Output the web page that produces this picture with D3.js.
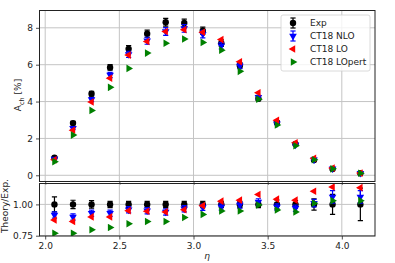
<!DOCTYPE html>
<html>
<head>
<meta charset="utf-8">
<script src="https://cdn.jsdelivr.net/npm/d3@7"></script>
<style>
  body { margin: 0; background: #fff; }
  svg { font-family: "DejaVu Sans", sans-serif; }
</style>
</head>
<body>
<div class="canvas"></div>
<script>
// bin centres in eta
const eta = [2.0625, 2.1875, 2.3125, 2.4375, 2.5625, 2.6875, 2.8125, 2.9375, 3.0625,
  3.1875, 3.3125, 3.4375, 3.5625, 3.6875, 3.8125, 3.9375, 4.125];

// top panel, A_ch [%]
const expVal = [0.96, 2.83, 4.42, 5.85, 6.86, 7.68, 8.30, 8.26, 7.84, 7.17, 5.96, 4.15, 2.86, 1.70, 0.83, 0.34, 0.11];
const expErr = [0.06, 0.09, 0.13, 0.15, 0.17, 0.19, 0.21, 0.21, 0.20, 0.18, 0.15, 0.10, 0.10, 0.05, 0.04, 0.03, 0.015];
const nloVal = [0.88, 2.55, 4.11, 5.44, 6.56, 7.30, 7.80, 7.97, 7.66, 7.03, 5.93, 4.23, 2.80, 1.65, 0.84, 0.36, 0.12];
const nloErr = [0.02, 0.07, 0.11, 0.14, 0.17, 0.19, 0.21, 0.21, 0.20, 0.18, 0.15, 0.10, 0.07, 0.04, 0.025, 0.017, 0.006];
const loVal = [0.84, 2.44, 3.98, 5.27, 6.52, 7.26, 7.80, 7.90, 7.76, 7.36, 6.16, 4.48, 2.98, 1.76, 0.92, 0.39, 0.12];
const lopertVal = [0.74, 2.18, 3.52, 4.77, 5.80, 6.63, 7.16, 7.39, 7.21, 6.79, 5.64, 4.13, 2.73, 1.60, 0.84, 0.35, 0.11];

// bottom panel, Theory/Exp.
const expRatioErr = [0.06, 0.033, 0.03, 0.025, 0.025, 0.025, 0.025, 0.025, 0.025, 0.025, 0.025, 0.025, 0.035, 0.03, 0.045, 0.08, 0.13];
const nloRatio = [0.915, 0.90, 0.93, 0.93, 0.957, 0.95, 0.94, 0.965, 0.977, 0.98, 0.995, 1.02, 0.98, 0.97, 1.01, 1.06, 1.06];
const nloRatioErr = [0.025, 0.025, 0.025, 0.025, 0.025, 0.025, 0.025, 0.025, 0.025, 0.025, 0.025, 0.025, 0.025, 0.025, 0.03, 0.05, 0.05];
const loRatio = [0.876, 0.863, 0.90, 0.90, 0.95, 0.945, 0.94, 0.957, 0.99, 1.026, 1.034, 1.079, 1.042, 1.034, 1.105, 1.139, 1.134];
const lopertRatio = [0.77, 0.77, 0.797, 0.815, 0.845, 0.863, 0.863, 0.895, 0.92, 0.947, 0.947, 0.995, 0.955, 0.94, 1.01, 1.03, 1.03];

const xTicks = [2.0, 2.5, 3.0, 3.5, 4.0];
const yTicksTop = [0, 2, 4, 6, 8];
const yTicksBot = [0.75, 1.00];
const legendNames = ["Exp", "CT18 NLO", "CT18 LO", "CT18 LOpert"];

const W = 395, H = 263;
const left = 39.5, right = 375;
const topY0 = 10.5, topY1 = 181.5;
const botY0 = 183.5, botY1 = 236;

const svg = d3.select(".canvas").append("svg").attr("width", W).attr("height", H);

const x = d3.scaleLinear().domain([1.9616, 4.2237]).range([left, right]);
const yTop = d3.scaleLinear().domain([-0.337, 8.94]).range([topY1, topY0]);
const yBot = d3.scaleLinear().domain([0.7476, 1.167]).range([botY1, botY0]);

const gridColor = "#c4c4c4";
const textColor = "#222";

let setupPanel = (y, y0, y1, yTicks, fmt, showX) => {
  const g = svg.append("g");
  // grid
  g.selectAll(".gx").data(xTicks).enter().append("line")
    .attr("x1", (d) => x(d)).attr("x2", (d) => x(d))
    .attr("y1", y0).attr("y2", y1)
    .attr("stroke", gridColor).attr("stroke-width", 1);
  g.selectAll(".gy").data(yTicks).enter().append("line")
    .attr("x1", left).attr("x2", right)
    .attr("y1", (d) => y(d)).attr("y2", (d) => y(d))
    .attr("stroke", gridColor).attr("stroke-width", 1);

  const yAxis = d3.axisLeft(y).tickValues(yTicks).tickFormat(fmt).tickSize(3.5).tickPadding(3);
  const ya = g.append("g").attr("transform", `translate(${left},0)`).call(yAxis);
  const xAxis = d3.axisBottom(x).tickValues(xTicks).tickFormat(showX ? d3.format(".1f") : () => "").tickSize(3.5).tickPadding(3);
  const xa = g.append("g").attr("transform", `translate(0,${y1})`).call(xAxis);
  [ya, xa].forEach((a) => {
    a.select(".domain").remove();
    a.selectAll("line").attr("stroke", textColor).attr("stroke-width", 0.8);
    a.selectAll("text").attr("fill", textColor).style("font-size", "9px").style("font-family", "DejaVu Sans");
  });
  return g;
};

setupPanel(yTop, topY0, topY1, yTicksTop, d3.format("d"), false);
setupPanel(yBot, botY0, botY1, yTicksBot, d3.format(".2f"), true);

// clip paths
svg.append("clipPath").attr("id", "clipTop").append("rect")
  .attr("x", left).attr("y", topY0).attr("width", right - left).attr("height", topY1 - topY0);
svg.append("clipPath").attr("id", "clipBot").append("rect")
  .attr("x", left).attr("y", botY0).attr("width", right - left).attr("height", botY1 - botY0);

const tri = d3.symbol().type(d3.symbolTriangle).size(25);

let errBar = (g, px, lo, hi, color) => {
  const cw = 2.6;
  g.append("line").attr("x1", px).attr("x2", px).attr("y1", lo).attr("y2", hi)
    .attr("stroke", color).attr("stroke-width", 1.2);
  g.append("line").attr("x1", px - cw).attr("x2", px + cw).attr("y1", lo).attr("y2", lo)
    .attr("stroke", color).attr("stroke-width", 1.2);
  g.append("line").attr("x1", px - cw).attr("x2", px + cw).attr("y1", hi).attr("y2", hi)
    .attr("stroke", color).attr("stroke-width", 1.2);
};

let drawErr = (g, xs, ys, es, y, color) => {
  xs.forEach((xv, i) => {
    errBar(g, x(xv), y(ys[i] - es[i]), y(ys[i] + es[i]), color);
  });
};

let drawTri = (g, xs, ys, y, color, rot) => {
  g.selectAll(null).data(xs).enter().append("path")
    .attr("d", tri)
    .attr("transform", (d, i) => `translate(${x(d)},${y(ys[i])}) rotate(${rot})`)
    .attr("fill", color);
};

let drawPanel = (clip, y, ev, ee, nv, ne, lv, pv) => {
  const g = svg.append("g").attr("clip-path", `url(#${clip})`);
  drawErr(g, eta, ev, ee, y, "black");
  g.selectAll(null).data(eta).enter().append("circle")
    .attr("cx", (d) => x(d)).attr("cy", (d, i) => y(ev[i])).attr("r", 3.2).attr("fill", "black");
  drawErr(g, eta, nv, ne, y, "blue");
  drawTri(g, eta, nv, y, "blue", 180);
  drawTri(g, eta, lv, y, "red", -90);
  drawTri(g, eta, pv, y, "green", 90);
};

drawPanel("clipTop", yTop, expVal, expErr, nloVal, nloErr, loVal, lopertVal);
drawPanel("clipBot", yBot, eta.map(() => 1), expRatioErr, nloRatio, nloRatioErr, loRatio, lopertRatio);

// frames
[[topY0, topY1], [botY0, botY1]].forEach((p) => {
  svg.append("rect").attr("x", left).attr("y", p[0]).attr("width", right - left).attr("height", p[1] - p[0])
    .attr("fill", "none").attr("stroke", textColor).attr("stroke-width", 1);
});

// axis labels
const yl = svg.append("text").attr("transform", "translate(21,95) rotate(-90)")
  .attr("text-anchor", "middle").attr("fill", textColor).style("font-size", "9px");
yl.append("tspan").text("A");
yl.append("tspan").attr("dy", 2.5).style("font-size", "6.5px").text("ch");
yl.append("tspan").attr("dy", -2.5).text(" [%]");
svg.append("text").attr("transform", "translate(8,206) rotate(-90)")
  .attr("text-anchor", "middle").attr("fill", textColor).style("font-size", "9px")
  .text("Theory/Exp.");
svg.append("text").attr("x", 207).attr("y", 259)
  .attr("text-anchor", "middle").attr("fill", textColor).style("font-size", "9px").style("font-style", "italic")
  .text("η");

// legend
const lg = svg.append("g");
lg.append("rect").attr("x", 281).attr("y", 15).attr("width", 89).attr("height", 56).attr("rx", 2)
  .attr("fill", "white").attr("fill-opacity", 0.8).attr("stroke", "#d0d0d0").attr("stroke-width", 0.8);
const ly = [23, 36, 49, 62];
const mx = 293;
errBar(lg, mx, ly[0] + 5, ly[0] - 5, "black");
lg.append("circle").attr("cx", mx).attr("cy", ly[0]).attr("r", 3.2).attr("fill", "black");
errBar(lg, mx, ly[1] + 5, ly[1] - 5, "blue");
lg.append("path").attr("d", tri).attr("transform", `translate(${mx},${ly[1]}) rotate(180)`).attr("fill", "blue");
lg.append("path").attr("d", tri).attr("transform", `translate(${mx},${ly[2]}) rotate(-90)`).attr("fill", "red");
lg.append("path").attr("d", tri).attr("transform", `translate(${mx},${ly[3]}) rotate(90)`).attr("fill", "green");
lg.selectAll(".lt").data(legendNames).enter().append("text")
  .attr("x", 310).attr("y", (d, i) => ly[i] + 3.3)
  .attr("fill", textColor).style("font-size", "9px")
  .text((d) => d);
</script>
</body>
</html>
